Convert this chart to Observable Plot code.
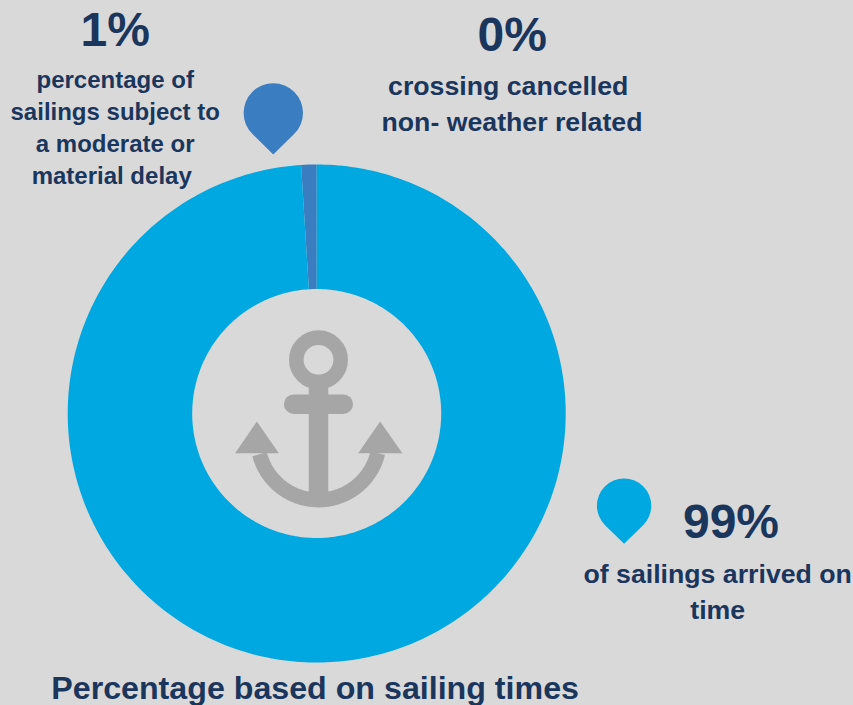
<!DOCTYPE html>
<html>
<head>
<meta charset="utf-8">
<script src="https://cdn.jsdelivr.net/npm/d3@7"></script>
<script src="https://cdn.jsdelivr.net/npm/@observablehq/plot@0.6"></script>
<style>
html,body{margin:0;padding:0;background:#d9d9d9;}
svg{display:block;}
</style>
</head>
<body>
<div id="chart"></div>
<script>
// Data
const categories = ["On time", "Moderate or material delay", "Cancelled non-weather"];
const shares = [99, 1, 0];
const sliceColors = ["#00a8e1", "#3b7dc1", "#1b365d"];

const ink = "#1b365d", anchorGray = "#a6a6a6", font = "Liberation Sans, Arial, sans-serif";

// Layout in picture units
const C = {x: 316.7, y: 413.5, R: 249, r: 124.5};

// Donut polygons from the shares
const total = d3.sum(shares);
const order = [1, 0, 2]; // clockwise from the delay slice
let acc = -360 * shares[1] / total;
const ring = [];
for (const i of order) {
  const a0 = acc, a1 = acc + 360 * shares[i] / total;
  acc = a1;
  if (a1 === a0) continue;
  const n = Math.max(2, Math.ceil(a1 - a0));
  for (let k = 0; k <= n; k++) {
    const t = (a0 + (a1 - a0) * k / n) * Math.PI / 180;
    ring.push({cat: categories[i], x1: C.x + C.R * Math.sin(t), y1: C.y - C.R * Math.cos(t),
               x2: C.x + C.r * Math.sin(t), y2: C.y - C.r * Math.cos(t)});
  }
}

// Pin symbol: circle with a pointed tail (tail tip 1.4 r below the centre)
const pin = {draw(ctx, size) {
  const r = Math.sqrt(size / Math.PI), d = 1.4 * r, a = Math.acos(r / d);
  ctx.moveTo(0, d);
  ctx.lineTo(r * Math.sin(a), r * Math.cos(a));
  ctx.arc(0, 0, r, Math.PI / 2 - a, Math.PI / 2 + a, true);
  ctx.closePath();
}};
const pins = [
  {x: 272.8, y: 112.4, r: 29.7, fill: sliceColors[1]},
  {x: 623.6, y: 505.2, r: 27.2, fill: sliceColors[0]}
];

// Anchor icon
const A = {x: 318, ringY: 359.3, ringR: 22.2, w: 15, stem: 19.5,
           barY: 403.7, barHalf: 24.8, arcY: 438.5, arcR: 60.9, headY: 452.7, headTipY: 421};
const arcEnd = Math.asin((A.headY - A.arcY) / A.arcR) * 180 / Math.PI;
const anchorArc = d3.range(arcEnd, 180 - arcEnd + 0.5, 2).map(deg => ({
  x: A.x + A.arcR * Math.cos(deg * Math.PI / 180),
  y: A.arcY + A.arcR * Math.sin(deg * Math.PI / 180)
}));
const anchorHeads = [
  [{x: 234.6, y: A.headY}, {x: 256.4, y: A.headTipY}, {x: 278.3, y: A.headY}],
  [{x: 357.7, y: A.headY}, {x: 379.6, y: A.headTipY}, {x: 401.9, y: A.headY}]
];

// Texts
const bigLabels = [
  {t: "1%", x: 114.7, y: 30},
  {t: "0%", x: 511.7, y: 35},
  {t: "99%", x: 730.5, y: 522.5}
];
const labels = [
  {t: "percentage of", x: 114.7, y: 80, s: 24},
  {t: "sailings subject to", x: 114.7, y: 112, s: 24},
  {t: "a moderate or", x: 114.7, y: 144, s: 24},
  {t: "material delay", x: 111.2, y: 176, s: 24},
  {t: "crossing cancelled", x: 507.7, y: 86, s: 26.7},
  {t: "non- weather related", x: 511.5, y: 122, s: 26.7},
  {t: "of sailings arrived on", x: 717.2, y: 574, s: 26.7},
  {t: "time", x: 717.2, y: 610, s: 26.7}
];
const title = [{t: "Percentage based on sailing times", x: 314.6, y: 688}];

const gray = {stroke: anchorGray, fill: "none"};
const chart = Plot.plot({
  width: 853, height: 705, margin: 0,
  style: {background: "#d9d9d9", fontFamily: font},
  x: {domain: [0, 853], range: [0, 853], axis: null},
  y: {domain: [0, 705], range: [0, 705], axis: null},
  r: {type: "identity"},
  color: {domain: categories, range: sliceColors},
  marks: [
    Plot.area(ring, {x1: "x1", y1: "y1", x2: "x2", y2: "y2", z: "cat", fill: "cat", curve: "linear"}),
    Plot.dot(pins, {x: "x", y: "y", r: "r", fill: d => d.fill, symbol: pin}),
    // anchor
    Plot.dot([A], {x: "x", y: "ringY", r: "ringR", stroke: anchorGray, strokeWidth: 14.6, fill: "none"}),
    Plot.line([{x: A.x, y: A.ringY + A.ringR}, {x: A.x, y: A.arcY + A.arcR}], {x: "x", y: "y", ...gray, strokeWidth: A.stem, strokeLinecap: "butt"}),
    Plot.line([{x: A.x - A.barHalf, y: A.barY}, {x: A.x + A.barHalf, y: A.barY}], {x: "x", y: "y", ...gray, strokeWidth: 19.5, strokeLinecap: "round"}),
    Plot.line(anchorArc, {x: "x", y: "y", ...gray, strokeWidth: A.w, strokeLinecap: "butt", curve: "linear"}),
    ...anchorHeads.map(h => Plot.line(h, {x: "x", y: "y", fill: anchorGray, stroke: "none"})),
    // texts
    Plot.text(bigLabels, {x: "x", y: "y", text: "t", fontSize: 48, fontWeight: "bold", fill: ink, textAnchor: "middle", lineAnchor: "middle"}),
    Plot.text(labels, {x: "x", y: "y", text: "t", fontSize: "s", fontWeight: "bold", fill: ink, textAnchor: "middle", lineAnchor: "middle"}),
    Plot.text(title, {x: "x", y: "y", text: "t", fontSize: 32.2, fontWeight: "bold", fill: ink, textAnchor: "middle", lineAnchor: "middle"})
  ]
});
document.getElementById("chart").append(chart);
</script>
</body>
</html>
